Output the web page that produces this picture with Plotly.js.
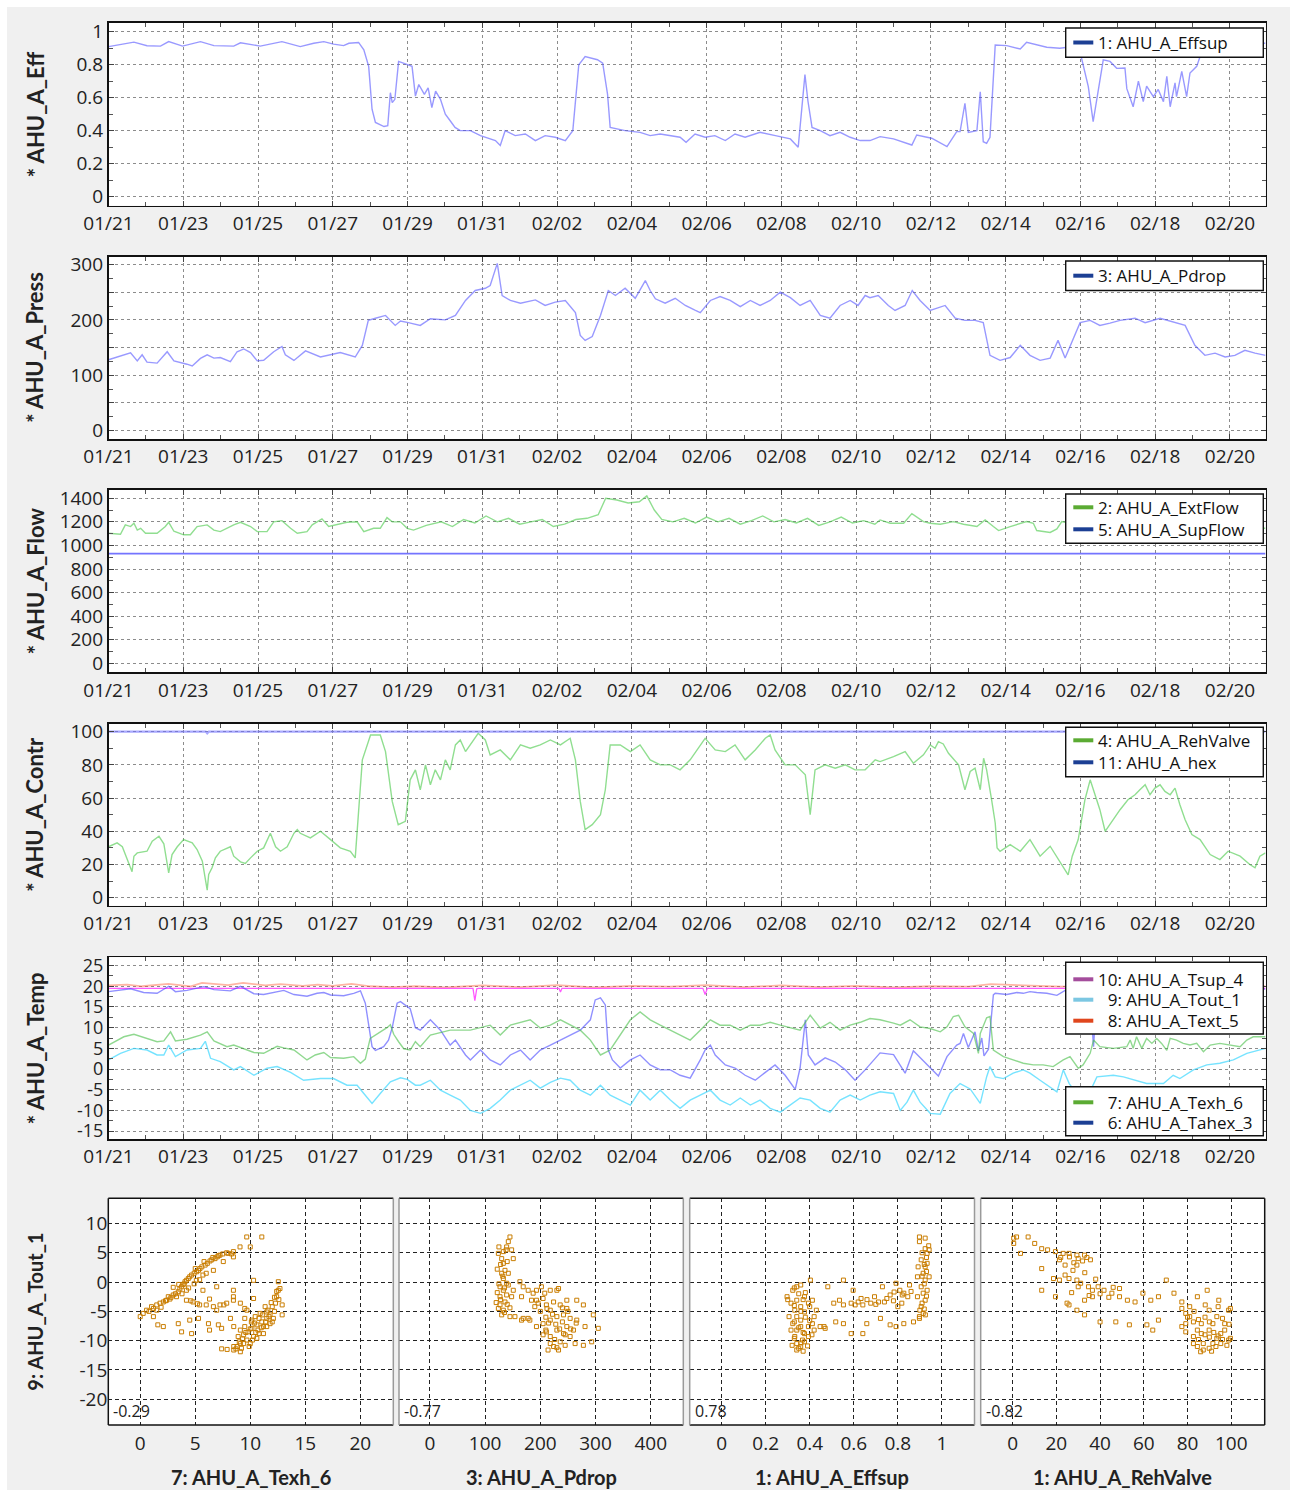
<!DOCTYPE html>
<html><head><meta charset="utf-8">
<script src="https://cdn.plot.ly/plotly-3.0.1.min.js"></script>
<style>html,body{margin:0;padding:0;background:#fff;} #chart{margin-left:7px;margin-top:7px;width:1283px;height:1483px;}</style>
</head><body><div id="chart"></div>
<script>
// ---------- DATA (time in days after 01/21 00:00) ----------
const effT=[0,0.5,0.68,1.03,1.39,1.61,1.98,2.46,2.82,3.35,3.53,4.06,4.64,5.13,5.49,5.76,6.02,6.29,6.43,6.69,6.83,6.96,7.05,7.14,7.37,7.47,7.54,7.59,7.66,7.76,7.9,8.12,8.21,8.3,8.45,8.55,8.65,8.75,8.88,9.01,9.14,9.27,9.41,9.68,9.95,10.35,10.48,10.61,10.88,11.15,11.42,11.68,11.95,12.22,12.42,12.58,12.75,13.08,13.22,13.35,13.42,13.82,14.22,14.49,14.76,15.03,15.29,15.45,15.69,15.96,16.22,16.5,16.76,17.03,17.43,17.84,18.24,18.45,18.63,18.71,18.82,19.04,19.3,19.57,19.84,20.11,20.37,20.64,21.0,21.49,21.62,22.02,22.43,22.69,22.78,22.91,23.0,23.23,23.32,23.4,23.49,23.58,23.72,24.03,24.39,24.56,25.1,25.45,25.8,26.03,26.21,26.34,26.48,26.61,26.79,26.97,27.19,27.24,27.41,27.55,27.68,27.77,27.95,28.08,28.22,28.31,28.4,28.53,28.57,28.71,28.84,28.93,29.11,29.2,29.4,29.8,30.2,30.6,30.95];
const effV=[.91,.933,.937,.915,.913,.94,.913,.94,.916,.913,.933,.913,.94,.91,.93,.94,.925,.916,.93,.935,.89,.79,.53,.45,.425,.43,.63,.57,.59,.82,.81,.79,.61,.68,.62,.66,.54,.64,.59,.5,.46,.42,.40,.40,.37,.34,.31,.40,.37,.38,.34,.37,.36,.34,.40,.80,.85,.83,.81,.62,.42,.40,.39,.37,.38,.37,.36,.33,.38,.36,.37,.34,.38,.36,.39,.37,.35,.30,.74,.58,.42,.40,.37,.39,.36,.34,.34,.364,.35,.313,.374,.354,.303,.394,.394,.566,.39,.40,.636,.333,.323,.36,.919,.916,.895,.936,.906,.90,.91,.839,.667,.455,.655,.83,.82,.778,.78,.655,.545,.70,.576,.67,.606,.65,.576,.73,.545,.69,.606,.76,.606,.75,.79,.85,.92,.93,.92,.93,.93];

const pdT=[0,.41,.59,.77,.9,1.03,1.3,1.57,1.75,2.1,2.24,2.46,2.64,2.82,2.99,3.26,3.44,3.62,3.8,3.98,4.15,4.42,4.64,4.73,4.96,5.27,5.67,6.2,6.6,6.79,6.95,7.14,7.41,7.67,7.81,8.02,8.34,8.61,9.01,9.28,9.55,9.81,10.08,10.21,10.4,10.53,10.75,11.02,11.42,11.68,11.95,12.22,12.49,12.62,12.75,12.94,13.16,13.37,13.56,13.82,14.09,14.36,14.49,14.63,14.89,15.16,15.43,15.7,15.83,16.1,16.36,16.63,16.9,17.17,17.43,17.7,17.97,18.24,18.5,18.77,19.04,19.3,19.57,19.84,20.05,20.24,20.37,20.59,20.86,21.04,21.31,21.5,21.71,21.98,22.38,22.65,22.91,23.18,23.4,23.58,23.85,24.12,24.39,24.65,24.92,25.19,25.4,25.59,25.78,25.99,26.26,26.52,26.79,27.06,27.46,27.73,28.13,28.53,28.8,29.06,29.33,29.6,29.87,30.13,30.4,30.67,30.95];
const pdV=[128,136.5,140.6,126,137,123.7,122,142.5,126,120,116.7,130.5,137,131,132,124.6,142.5,147.5,141,126,127,142.5,152,137,126.8,144,133,141,133,154,199,203,208,190,198,195,190,202,200,208,235,253,257,262,302,244,235,230,236,226,232,235,213,172,163,170,208,253,244,257,239,271,253,238,230,239,226,217,213,235,242,235,224,235,226,235,250,240,226,235,208,203,226,235,226,244,240,244,226,217,226,253,235,217,226,203,199,199,195,136,127,132,154,136,127,131,163,131,163,195,199,190,194,199,203,195,203,195,190,154,136,140,133,136,145,140,136];

const extFlowT=[0,.32,.45,.59,.68,.77,.86,.99,1.3,1.52,1.61,1.75,2.01,2.19,2.37,2.64,2.82,2.99,3.35,3.53,3.8,3.98,4.24,4.42,4.64,4.87,5.05,5.31,5.45,5.71,5.89,6.11,6.38,6.65,6.83,7.09,7.27,7.45,7.59,7.81,7.99,8.16,8.5,8.9,9.2,9.5,9.8,10.1,10.4,10.7,11.0,11.3,11.6,11.9,12.2,12.5,12.8,13.1,13.3,13.6,13.9,14.2,14.4,14.6,14.8,15.1,15.4,15.7,16.0,16.3,16.6,16.9,17.2,17.5,17.8,18.1,18.4,18.7,19.0,19.3,19.6,19.9,20.2,20.5,20.64,20.91,21.27,21.49,21.8,21.98,22.25,22.6,22.87,23.23,23.45,23.67,23.81,24.12,24.56,24.74,24.83,25.19,25.37,25.5,25.8,26.2,26.6,27.0,27.4,27.8,28.2,28.6,29.0,29.4,29.8,30.2,30.6,30.95];
const extFlowV=[1103,1095,1174,1160,1188,1130,1145,1103,1103,1160,1196,1120,1090,1090,1160,1174,1130,1117,1174,1196,1160,1117,1117,1200,1210,1145,1103,1117,1174,1225,1160,1174,1196,1200,1117,1145,1145,1236,1200,1200,1145,1130,1170,1200,1160,1220,1190,1250,1200,1230,1180,1200,1220,1160,1180,1220,1230,1260,1400,1385,1360,1370,1420,1300,1220,1200,1230,1190,1240,1200,1230,1180,1210,1250,1200,1220,1190,1230,1170,1200,1240,1190,1210,1180,1216,1188,1188,1270,1202,1188,1180,1202,1180,1160,1216,1160,1126,1160,1202,1188,1126,1110,1140,1202,1180,1230,1200,1220,1180,1210,1190,1230,1200,1170,1200,1160,1150,1145];
const supFlowT=[0,10,20,30.95];
const supFlowV=[930,930,930,930];

const rehT=[0,.23,.37,.5,.63,.68,.77,1.03,1.17,1.35,1.48,1.61,1.7,1.84,2.01,2.24,2.37,2.51,2.64,2.68,2.77,2.86,2.99,3.26,3.35,3.53,3.66,3.8,3.98,4.15,4.33,4.47,4.6,4.78,4.96,5.05,5.13,5.4,5.67,5.94,6.2,6.47,6.6,6.79,7.01,7.27,7.41,7.59,7.75,7.94,8.07,8.21,8.34,8.48,8.61,8.74,8.88,9.01,9.14,9.28,9.41,9.55,9.68,9.89,10.08,10.21,10.48,10.75,11.02,11.28,11.55,11.82,12.09,12.35,12.49,12.62,12.75,12.94,13.16,13.29,13.42,13.69,13.96,14.22,14.49,14.76,15.03,15.29,15.56,15.83,15.96,16.23,16.5,16.76,17.03,17.3,17.57,17.7,17.83,18.1,18.37,18.64,18.77,18.9,19.17,19.44,19.71,19.97,20.24,20.51,20.64,21.0,21.31,21.53,21.8,21.98,22.11,22.2,22.33,22.47,22.74,22.91,23.05,23.18,23.32,23.41,23.49,23.63,23.72,23.77,23.85,24.12,24.39,24.65,24.92,25.19,25.45,25.67,25.78,25.94,26.12,26.26,26.39,26.52,26.66,26.84,27.06,27.27,27.46,27.59,27.73,27.86,27.99,28.13,28.26,28.4,28.53,28.66,28.8,28.98,29.2,29.47,29.73,29.95,30.27,30.53,30.67,30.8,30.95];
const rehV=[30.7,33,30.7,23.7,15.7,25,27,28,34,37,32.5,15,26,30.7,35,33,29,22,4.6,14,18,24,28,30.7,25,21.6,20.6,24,28,30,38.8,30.7,28,30.7,38.8,41,38.8,36,40,35,30,28,24,83,98,98,88,58,44,46,71,77,65,80,68,77,71,83,77,92,95,88,92,99,95,86,89,83,92,90,92,95,92,96,83,58,41,44,50,65,92,92,88,92,83,80,80,77,83,92,96,89,88,92,83,89,96,98,89,80,80,74,50,77,80,78,80,77,77,83,82,84.9,88,81,86,92,90,94,92.6,87,80,65,76,78,65,84,77,58,45,30,28,32,28,35,25,31,22,13.7,25,35,59,71,62,53,40,46,53,59,62,65,68,62,66,68,64,62,66,56,47,38,35,26,23,28,25,20,18,25,27];
const hexT=[0,2.6,2.64,2.68,30.95];
const hexV=[100,100,99,100,100];

const tsupT=[0,9.75,9.8,9.85,9.9,12.05,12.09,12.13,15.9,15.96,16.02,30.95];
const tsupV=[19.5,19.5,16.5,19.4,19.5,19.5,18.6,19.5,19.5,18.0,19.5,19.5];
const textT=[0,.5,.9,1.6,2.2,2.5,3.2,3.6,4.2,4.6,5.2,5.6,6.0,6.5,7.0,7.6,8.2,9.0,10.0,11.0,12.0,13.0,14.0,15.0,16.0,17.0,18.0,19.0,20.0,21.0,22.0,23.0,23.6,24.5,25.5,26.5,27.5,28.5,29.5,30.95];
const textV=[20.2,20.4,20.0,20.6,20.0,20.8,20.3,20.8,20.2,20.5,20.1,20.4,20.1,20.6,20.0,19.8,20.0,19.7,20.2,19.8,20.3,19.7,20.1,19.9,20.3,19.8,20.2,19.8,20.1,19.7,20.0,19.9,20.5,20.2,19.9,20.3,19.9,20.2,19.9,20.0];
const tahexT=[0,.59,.94,1.3,1.61,1.79,2.1,2.55,2.82,3.26,3.53,3.89,4.15,4.51,4.69,4.96,5.31,5.58,5.76,5.94,6.29,6.56,6.74,6.87,6.96,7.05,7.14,7.36,7.49,7.59,7.72,7.81,8.07,8.21,8.34,8.61,8.88,9.14,9.28,9.55,9.68,9.95,10.21,10.48,10.75,11.02,11.28,11.55,11.82,12.09,12.35,12.62,12.89,13.02,13.16,13.29,13.37,13.48,13.69,13.96,14.22,14.49,14.76,15.03,15.29,15.56,15.83,15.96,16.1,16.23,16.5,16.76,17.03,17.3,17.57,17.83,18.1,18.37,18.5,18.64,18.72,18.9,19.17,19.44,19.71,19.97,20.24,20.51,20.64,21.0,21.31,21.53,21.8,22.2,22.43,22.69,22.78,22.87,23.0,23.18,23.27,23.36,23.42,23.54,23.67,23.72,24.03,24.3,24.47,24.65,24.83,25.1,25.37,25.59,25.9,26.2,26.3,26.35,26.42,26.8,27.2,27.6,28.0,28.4,28.8,29.2,29.6,30.0,30.95];
const tahexV=[18.7,19.4,18.5,18.3,20.0,18.7,19.0,19.9,19.2,18.9,20.0,18.2,18.0,18.7,19.0,18.0,17.6,18.3,18.5,17.9,17.7,18.3,18.9,15.9,10.2,5.4,4.5,5.4,7.0,10,15.9,16.3,14.6,10,9.4,11.9,9.4,5.8,7.0,3.4,2.2,4.6,2.2,1.0,3.4,4.6,2.2,4.6,5.8,7.0,8.2,9.4,11.9,16.7,17.2,15.5,4.6,2.2,0.25,2.2,3.4,1.0,-0.2,-0.2,-1.5,-2.2,2.2,4.6,5.8,3.4,1.0,0.25,-1.5,-2.7,-0.8,1.0,-1.5,-4.9,0.25,11.9,3.4,1.0,2.7,1.7,-0.2,-2.7,-0.2,2.7,3.9,3.5,-1.0,4.4,2.0,-1.7,3,5.8,6.2,8.6,5.2,9.0,4.4,7.5,3.2,4.8,17.9,18.3,18.0,18.5,18.3,18.7,18.5,18.3,17.8,19.0,19.0,18.5,12,5.4,16,16,14,13,14,13,15,18,19,19.3,19.3];
const texhT=[0,.41,.68,.94,1.3,1.48,1.66,1.79,2.1,2.46,2.64,2.82,3.17,3.35,3.62,3.89,4.15,4.51,4.69,4.96,5.31,5.53,5.76,5.94,6.29,6.56,6.74,6.87,7.0,7.18,7.45,7.54,7.63,7.76,7.9,8.07,8.21,8.34,8.61,9.14,9.68,10.21,10.48,10.75,11.28,11.55,11.82,12.09,12.35,12.62,12.89,13.16,13.42,13.69,13.96,14.22,14.49,14.76,15.03,15.29,15.56,15.83,16.1,16.36,16.63,16.9,17.17,17.43,17.7,17.97,18.24,18.5,18.77,19.04,19.3,19.57,19.84,20.11,20.37,20.64,21.0,21.18,21.44,21.71,21.98,22.25,22.43,22.6,22.74,22.91,23.14,23.27,23.32,23.49,23.58,23.67,23.94,24.2,24.47,24.74,25.0,25.27,25.54,25.72,25.94,26.07,26.26,26.35,26.52,26.88,27.24,27.33,27.41,27.5,27.64,27.77,27.91,28.04,28.17,28.31,28.4,28.57,28.75,28.93,29.11,29.29,29.47,29.73,30.0,30.27,30.45,30.62,30.95];
const texhV=[5.8,7.8,8.4,7.6,6.6,6.8,9.0,6.8,7.2,8.2,9.0,6.8,5.4,5.8,4.8,4.0,3.8,5.5,5.1,4.6,2.2,3.4,4.0,2.8,2.6,3.0,1.4,2.4,7.4,8.4,10,10.7,8.4,6.6,4.9,4.6,6.6,5.4,8.2,9.4,9.4,10.6,8.2,10.6,11.9,9.9,10.6,11.9,10.6,9.4,7.0,3.4,4.6,8.2,11.9,13.8,11.9,10.6,9.4,8.2,7.0,9.4,11.9,10.6,10.6,9.4,10.6,10.6,11.3,10.6,9.9,9.4,13.0,9.9,11.3,9.4,10.6,11.3,12.2,11.9,11.1,10.6,11.9,10.2,9.8,9.0,10.2,12.7,13.0,10.2,8.6,3.8,8.6,12.4,12.7,4.6,3.0,2.2,1.4,1.0,1.0,0.6,2.2,3.0,0.2,1.0,3.8,7.0,5.4,5.0,5.4,7.0,5.0,7.8,5.0,7.4,6.2,7.4,6.2,4.5,7.4,7.0,6.2,5.8,6.2,4.2,5.8,6.2,5.8,5.4,7.0,7.8,7.8];
const toutT=[0,.32,.68,1.03,1.3,1.48,1.61,1.79,2.1,2.46,2.59,2.73,2.99,3.35,3.53,3.89,4.24,4.51,4.87,5.22,5.67,6.02,6.38,6.65,6.83,7.05,7.27,7.54,7.81,7.99,8.21,8.34,8.61,8.88,9.14,9.41,9.68,9.95,10.21,10.48,10.75,11.02,11.28,11.55,11.82,12.09,12.35,12.62,12.89,13.16,13.42,13.69,13.96,14.22,14.49,14.76,15.03,15.29,15.56,15.83,16.1,16.36,16.63,16.9,17.17,17.43,17.7,17.97,18.24,18.5,18.77,19.04,19.3,19.57,19.84,20.11,20.37,20.64,21.0,21.18,21.36,21.53,21.71,21.98,22.25,22.51,22.78,23.05,23.32,23.49,23.58,23.72,23.94,24.2,24.47,24.65,24.92,25.19,25.37,25.54,25.7,25.9,26.1,26.3,26.44,26.88,27.15,27.77,28.22,28.48,28.66,29.02,29.38,29.73,30.09,30.45,30.95];
const toutV=[2.2,3.8,5.0,4.6,3.4,3.4,5.8,3.0,4.6,5.0,6.7,2.6,1.8,-0.2,0.6,-1.5,0.2,0.6,-0.8,-2.7,-2.3,-2.3,-3.9,-3.9,-5.9,-8.3,-5.9,-3.1,-2.1,-2.5,-3.9,-3.9,-2.7,-5.1,-6.3,-7.5,-10,-10.7,-9.5,-7.5,-5.1,-3.9,-2.7,-4.6,-3.2,-2.2,-2.7,-5.1,-6.3,-3.9,-6.3,-7.5,-8.7,-5.1,-7.5,-5.1,-7.5,-9.5,-7.5,-6.3,-5.1,-7.5,-8.7,-7.0,-8.7,-7.5,-9.5,-10.4,-8.7,-7.0,-7.5,-9.5,-10.4,-7.5,-6.3,-7.5,-6.3,-5.5,-5.9,-10,-8.0,-5.1,-8.0,-10.7,-10.9,-5.9,-3.5,-4.8,-8.3,-1.9,0.6,-1.9,-2.3,-1.0,-0.2,-1.0,-2.7,-4.3,-5.5,-0.2,-3.5,-6,-5,-4.6,-1.9,-1.5,-1.9,-3.5,-3.5,-1.5,-2.3,-0.2,1.0,1.4,2.2,3.8,5.0];

// scatter panels (y = 9: AHU_A_Tout_1)
const sc1X=[0,0.27,0.58,1.03,1.5,2.1,2.55,3.0,3.46,3.76,4.07,4.37,4.67,5.13,5.43,5.9,6.34,6.8,7.25,7.86,8.47,9.07,9.68,11.05,10.0,1.5,2.4,3.3,4.2,5.1,5.7,6.65,7.55,8.47,4.2,4.8,5.4,6.0,6.65,7.25,7.86,8.47,9.1,9.5,5.7,6.95,8.47,8.47,1.2,1.6,2.1,3.46,3.76,4.67,4.5,5.3,6.2,6.3,7.1,7.4,8.2,8.5,9.7,9.5,6.95,10.3,10.3,7.4,7.9,8.5,8.8,9.1,8.9,9.4,9.8,9.7,10.15,10.3,10.6,10.7,11.05,11.2,11.5,11.5,11.8,12.0,12.3,12.4,12.55,12.55,12.7,12.9,12.9,10.15,10.45,10.9,11.35,9.1,9.4,10.0,10.6,11.2,11.8,12.1,8.5,9.1,0.8,1.2,1.8,2.3,2.8,3.2,3.6,3.9,4.2,4.5,4.9,5.3,5.6,6.1,6.5,7.0,7.5,8.0,8.3,7.1,6.6,5.8,5.0,3.0,3.5,4.0,2.7,4.4,4.9,5.4,6.0,1.9,3.8,4.6,5.2,7.6,6.3,9.3,9.6,10.0,10.4,10.8,11.1,11.6,11.9,12.2,12.4,9.0,8.7,9.9,10.2,10.5,11.0,11.4,11.7,12.2,12.6,9.5,10.1,10.8,11.5,12.0,9.2];
const sc1Y=[-5.9,-5.35,-4.8,-4.2,-3.9,-3.4,-2.5,-2.2,-1.65,-0.8,0.06,0.6,1.2,1.76,2.3,2.9,3.6,4.0,4.6,5.0,5.2,6.0,7.7,7.7,6.0,-4.8,-3.1,-2.5,-1.4,0.3,1.2,2.0,3.5,4.3,-3.1,-3.4,-3.9,-3.9,-4.2,-3.9,-3.6,-3.1,-3.6,-4.5,-1.4,-0.8,-1.4,-2.5,-5.9,-7.3,-7.6,-7.1,-8.5,-8.8,-6.5,-6.2,-7.1,-8.2,-7.3,-7.9,-6.2,-7.6,-4.8,-6.2,-4.8,-2.8,0.3,-11.4,-11.5,-11.6,-11.0,-10.5,-9.3,-9.0,-8.5,-9.9,-7.9,-9.3,-7.3,-8.2,-6.8,-7.6,-6.2,-5.1,-5.6,-4.2,-3.6,-2.5,-1.4,0.06,-1.1,-3.9,-5.6,-6.5,-5.9,-5.35,-4.2,-8.2,-10.5,-10.5,-9.6,-8.8,-7.1,-6.2,-11.0,-11.9,-5.0,-4.5,-3.6,-3.2,-2.6,-2.0,-1.2,-0.4,0.3,0.9,1.5,2.0,2.6,3.2,3.8,4.3,4.8,4.9,4.8,4.5,4.2,3.5,2.3,-0.9,-0.4,-0.3,-2.9,-1.0,-0.3,0.4,1.5,-4.3,-2.0,-3.2,-3.7,-3.9,-2.9,-9.7,-8.6,-8.0,-7.0,-6.2,-5.6,-4.8,-3.5,-2.6,-1.6,-10.2,-11.4,-11.0,-9.9,-8.6,-7.8,-6.8,-5.9,-5.0,-3.0,-7.6,-6.8,-8.8,-7.6,-6.8,-11.3];
const sc2X=[145,142,139,133,124,130,133,136,130,133,139,127,133,139,127,136,127,133,130,145,151,148,142,151,148,163,169,178,187,193,202,208,218,230,233,205,196,211,224,236,248,248,266,278,296,305,293,278,281,266,254,242,230,218,205,193,181,169,166,178,211,218,230,242,254,263,236,224,214,233,248,260,218,193,184,166,154,125,138,128,140,122,132,125,142,122,135,128,140,124,135,145,120,200,210,215,222,228,235,240,245,250,226,210,205,218,230,245,255,265,212,190,240];
const sc2Y=[7.7,6.9,6.0,5.2,4.9,4.0,3.2,2.0,1.5,0.6,-0.2,-0.8,-1.4,-2.2,-2.5,-3.4,-3.9,-4.8,-5.6,-5.9,-1.4,-2.5,1.5,4.0,5.5,0.06,-0.8,-1.4,-1.9,-1.4,-0.8,-1.9,-1.4,-1.4,-1.1,-2.8,-3.6,-3.9,-3.4,-3.9,-3.1,-4.5,-3.1,-3.9,-5.6,-7.9,-10.2,-10.8,-7.6,-6.5,-6.2,-5.6,-5.9,-6.5,-7.1,-7.6,-6.5,-6.2,-6.5,-6.2,-8.5,-9.3,-8.2,-8.8,-9.3,-10.5,-10.2,-11.0,-11.6,-11.6,-7.6,-8.2,-4.8,-3.1,-3.1,-2.5,-5.9,6.0,5.5,3.0,3.5,2.2,1.0,-0.3,-0.5,-1.8,-1.0,-3.0,-3.8,-4.5,-5.2,-4.4,-3.5,-5.0,-6.0,-7.0,-5.5,-7.2,-8.0,-6.8,-9.0,-5.0,-9.8,-8.2,-9.0,-10.5,-11.2,-10.8,-8.0,-7.0,-4.5,-4.2,-4.4];
const sc3X=[0.297,0.323,0.341,0.359,0.403,0.315,0.332,0.341,0.323,0.341,0.332,0.341,0.341,0.359,0.367,0.376,0.394,0.412,0.42,0.43,0.394,0.376,0.412,0.359,0.376,0.359,0.306,0.315,0.376,0.394,0.42,0.447,0.47,0.359,0.341,0.509,0.535,0.553,0.588,0.606,0.633,0.641,0.677,0.694,0.712,0.739,0.765,0.783,0.809,0.827,0.845,0.853,0.8,0.818,0.482,0.553,0.597,0.73,0.792,0.465,0.518,0.553,0.588,0.641,0.659,0.721,0.765,0.792,0.827,0.871,0.898,0.898,0.915,0.906,0.924,0.915,0.906,0.924,0.915,0.924,0.906,0.933,0.924,0.942,0.898,0.924,0.898,0.889,0.933,0.942,0.889,0.933,0.892,0.33,0.35,0.37,0.33,0.36,0.38,0.33,0.35,0.37,0.33,0.36,0.39,0.35,0.32,0.4,0.4,0.38,0.3,0.41,0.37,0.92,0.91,0.93,0.92,0.91,0.93,0.92,0.93,0.91,0.94,0.925,0.9,0.62,0.66,0.7,0.75,0.78,0.82,0.86];
const sc3Y=[-2.5,-1.4,-0.8,-0.5,0.34,-3.6,-4.8,-5.9,-7.1,-8.2,-9.3,-10.5,-11.6,-11.0,-9.9,-8.8,-7.6,-7.1,-5.9,-4.8,-3.6,-2.5,-3.1,-6.5,-5.1,-4.2,-5.9,-8.2,-10.2,-9.3,-8.2,-7.6,-7.9,-7.6,-3.1,-3.6,-3.1,-3.9,-3.6,-3.9,-2.8,-3.9,-3.6,-2.5,-3.4,-3.4,-2.2,-1.7,-1.4,-1.9,-2.5,-0.5,-4.2,-3.6,-0.8,0.34,-1.4,-0.8,-0.2,-7.6,-6.8,-7.1,-8.8,-8.8,-7.1,-6.2,-7.3,-7.6,-7.1,-6.8,-6.2,-5.9,-5.35,-4.2,-3.1,-1.9,-0.8,0.34,1.5,2.6,3.8,4.9,5.7,5.5,7.7,7.5,6.9,-2.5,-1.4,0.9,0.9,3.2,2.6,-1.0,-2.0,-3.0,-4.0,-5.0,-6.0,-6.8,-7.8,-8.6,-9.6,-10.4,-10.9,-11.3,-10.8,-6.6,-4.2,-1.8,-3.0,-9.0,-11.8,-4.6,-3.6,-2.4,-0.3,1.0,1.8,3.0,4.2,5.0,6.2,-5.6,-4.8,-3.4,-3.0,-3.8,-2.8,-3.2,-2.2,-1.6];
const sc4X=[0.5,0.5,1.8,7.1,3.6,10.1,13.3,16.0,19.6,23.1,25.8,29.4,32.9,35.6,21.4,24.0,27.6,29.4,13.3,18.7,21.4,25.8,29.4,31.1,34.7,36.5,39.1,41.8,45.4,48.9,48.9,52.5,56.0,59.6,63.2,66.7,70.3,73.8,77.4,13.3,19.6,24.9,29.4,32.9,40.0,47.2,53.4,61.4,64.1,66.7,25.8,32.9,36.5,77.4,79.2,81.0,82.7,79.2,77.4,84.5,86.3,82.7,87.2,84.5,87.2,89.9,91.6,93.4,95.2,97.0,98.8,99.6,97.0,93.4,89.9,88.1,98.8,99.6,94.3,89.0,84.5,81.0,86.3,89.9,91.6,95.2,82.7,79.2,22,26,30,34,28,32,24,33,38,30,27,35,40,44,46,83,85,88,90,92,94,96,85,88,91,93,86,80,96,99,94,98,90];
const sc4Y=[7.5,6.6,7.7,7.7,4.9,6.6,5.7,5.5,5.2,4.9,4.9,4.6,4.6,3.8,3.8,2.9,2.0,2.9,2.3,0.6,0.34,0.6,0.34,-0.2,-0.8,-1.4,-0.8,-1.4,-1.9,-1.1,-2.5,-3.1,-3.4,-1.9,-3.1,-2.5,0.34,-1.9,-3.4,-1.4,-2.5,-3.6,-4.8,-5.6,-6.8,-6.8,-7.3,-7.3,-8.2,-6.5,-3.9,-3.1,-2.5,-4.5,-5.35,-5.9,-6.8,-7.1,-7.6,-8.2,-8.8,-9.3,-10.5,-11.0,-11.6,-11.3,-10.5,-9.6,-8.8,-8.2,-9.9,-9.6,-7.1,-5.9,-4.8,-3.9,-4.8,-4.5,-3.1,-1.4,-2.5,-4.2,-7.1,-8.2,-7.1,-10.5,-10.5,-8.5,4.2,4.3,4.0,4.2,3.3,3.6,1.2,1.6,0.5,-0.8,-1.8,-2.3,-2.0,-2.6,-0.9,-5.0,-6.4,-6.0,-6.8,-8.6,-9.2,-9.8,-9.8,-9.0,-11.8,-11.0,-11.9,-6.0,-6.2,-7.2,-4.2,-10.8,-9.4];
const corrLabels=['-0.29','-0.77','0.78','-0.82'];
const scXTitles=['7: AHU_A_Texh_6','3: AHU_A_Pdrop','1: AHU_A_Effsup','1: AHU_A_RehValve'];
const scYTitle='9: AHU_A_Tout_1';
const panelTitles=['* AHU_A_Eff','* AHU_A_Press','* AHU_A_Flow','* AHU_A_Contr','* AHU_A_Temp'];
// legend entries per panel
const legNames=[['1: AHU_A_Effsup'],['3: AHU_A_Pdrop'],['2: AHU_A_ExtFlow','5: AHU_A_SupFlow'],['4: AHU_A_RehValve','11: AHU_A_hex'],['10: AHU_A_Tsup_4','\u20079: AHU_A_Tout_1','\u20078: AHU_A_Text_5'],['\u20077: AHU_A_Texh_6','\u20076: AHU_A_Tahex_3']];

// tick labels
const effTicks=[0,0.2,0.4,0.6,0.8,1], effTickText=['0','0.2','0.4','0.6','0.8','1'];
const pressTicks=[0,50,100,150,200,250,300], pressTickText=['0','','100','','200','','300'];
const flowTicks=[0,200,400,600,800,1000,1200,1400], flowTickText=['0','200','400','600','800','1000','1200','1400'];
const contrTicks=[0,20,40,60,80,100], contrTickText=['0','20','40','60','80','100'];
const tempTicks=[-15,-10,-5,0,5,10,15,20,25], tempTickText=['-15','-10','-5','0','5','10','15','20','25'];
const scYTicks=[-20,-15,-10,-5,0,5,10], scYTickText=['-20','-15','-10','-5','0','5','10'];
const sc1Ticks=[0,5,10,15,20], sc2Ticks=[0,100,200,300,400], sc3Ticks=[0,0.2,0.4,0.6,0.8,1], sc3TickText=['0','0.2','0.4','0.6','0.8','1'], sc4Ticks=[0,20,40,60,80,100];

// ---------- LAYOUT HELPERS ----------
const OX=7, OY=7, W=1283, H=1483;
const fx=p=>(p-OX)/W, fy=p=>1-(p-OY)/H;
const DAY=86400000, BASE=Date.UTC(2021,0,21);
const toDate=ts=>ts.map(d=>BASE+d*DAY);
const TF={family:'Open Sans, sans-serif',size:19,color:'#222'};
const TF18={family:'Open Sans, sans-serif',size:18,color:'#222'};
const panels=[[23,205.7],[256.7,439],[490,672.3],[724,905.7],[957.3,1139]];
const yRanges=[[-0.055,1.053],[-15,314],[-76,1470],[-4.8,104.6],[-16.9,27]];
const yTicks=[[effTicks,effTickText,0.1],[pressTicks,pressTickText,25],[flowTicks,flowTickText,100],[contrTicks,contrTickText,10],[tempTicks,tempTickText,2.5]];

const layout={
  width:W,height:H,margin:{l:0,r:0,t:0,b:0},
  paper_bgcolor:'#f0f0f0',plot_bgcolor:'#ffffff',
  showlegend:false,hovermode:false,
  annotations:[],shapes:[]
};
for(let i=0;i<5;i++){
  const s=i===0?'':String(i+1);
  layout['xaxis'+s]={
    domain:[fx(108.5),fx(1265.5)],anchor:'y'+s,type:'date',
    range:['2021-01-21 00:00','2021-02-20 22:48'],
    tick0:'2021-01-21',dtick:2*DAY,tickformat:'%m/%d',
    ticks:'inside',ticklen:5,tickcolor:'#444',tickfont:TF,
    showgrid:true,gridcolor:'#8c8c8c',griddash:'dot',gridwidth:1,
    showline:true,linecolor:'#111',linewidth:1.6,mirror:'allticks',zeroline:false,
    minor:{tick0:'2021-01-21',dtick:DAY,ticks:'inside',ticklen:4,tickcolor:'#555',showgrid:false}
  };
  const [tv,tt,mn]=yTicks[i];
  layout['yaxis'+s]={
    domain:[fy(panels[i][1]),fy(panels[i][0])],anchor:'x'+s,range:yRanges[i],
    tickmode:'array',tickvals:tv,ticktext:tt,
    ticks:'inside',ticklen:5,tickcolor:'#444',tickfont:(i===4?TF18:TF),
    showgrid:true,gridcolor:'#8c8c8c',griddash:'dot',gridwidth:1,
    showline:true,linecolor:'#111',linewidth:1.6,mirror:'allticks',zeroline:false,
    minor:{tickmode:'linear',tick0:0,dtick:mn,ticks:'inside',ticklen:4,tickcolor:'#555',showgrid:false}
  };
  layout.annotations.push({xref:'paper',yref:'paper',x:fx(35),y:fy((panels[i][0]+panels[i][1])/2),
    text:'<b>'+panelTitles[i]+'</b>',textangle:-90,showarrow:false,xanchor:'center',yanchor:'middle',
    font:{family:'Lato, sans-serif',size:22,color:'#222'}});
}
// scatter subplots
const scDom=[[108.3,393.3],[399,683.3],[689.7,974.5],[980.7,1264.7]];
const scRanges=[[-2.9,23.0],[-56,459],[-0.145,1.148],[-14.6,115.3]];
const scTicks=[[sc1Ticks,sc1Ticks.map(String)],[sc2Ticks,sc2Ticks.map(String)],[sc3Ticks,sc3TickText],[sc4Ticks,sc4Ticks.map(String)]];
const scTop=1198.3, scBot=1425;
for(let j=0;j<4;j++){
  const s=String(6+j);
  layout['xaxis'+s]={domain:[fx(scDom[j][0]),fx(scDom[j][1])],anchor:'y'+s,range:scRanges[j],
    tickmode:'array',tickvals:scTicks[j][0],ticktext:scTicks[j][1],tickfont:TF,ticks:'',ticklabelstandoff:5,
    showgrid:true,gridcolor:'#222',griddash:'4px,3px',gridwidth:1,zeroline:false,showline:false};
  layout['yaxis'+s]={domain:[fy(scBot),fy(scTop)],anchor:'x'+s,range:[-24.4,14.3],
    tickmode:'array',tickvals:scYTicks,ticktext:scYTickText,tickfont:TF,ticks:'',showticklabels:j===0,
    showgrid:true,gridcolor:'#222',griddash:'4px,3px',gridwidth:1,zeroline:false,showline:false};
  const L=fx(scDom[j][0]),R=fx(scDom[j][1]),T=fy(scTop),B=fy(scBot);
  layout.shapes.push({type:'line',xref:'paper',yref:'paper',x0:L,x1:R,y0:T,y1:T,line:{color:'#111',width:1.5},layer:'above'});
  layout.shapes.push({type:'line',xref:'paper',yref:'paper',x0:L,x1:R,y0:B,y1:B,line:{color:'#111',width:1.5},layer:'above'});
  layout.shapes.push({type:'line',xref:'paper',yref:'paper',x0:L,x1:L,y0:B,y1:T,line:{color:j===0?'#111':'#9a9a9a',width:1.5},layer:'above'});
  layout.shapes.push({type:'line',xref:'paper',yref:'paper',x0:R,x1:R,y0:B,y1:T,line:{color:j===3?'#111':'#9a9a9a',width:1.5},layer:'above'});
  layout.annotations.push({xref:'paper',yref:'paper',x:fx(scDom[j][0]+3),y:fy(scBot-1),text:corrLabels[j],showarrow:false,
    xanchor:'left',yanchor:'bottom',font:{family:'Open Sans, sans-serif',size:16,color:'#222'}});
  layout.annotations.push({xref:'paper',yref:'paper',x:fx((scDom[j][0]+scDom[j][1])/2),y:fy(1477),text:'<b>'+scXTitles[j]+'</b>',
    showarrow:false,xanchor:'center',yanchor:'middle',font:{family:'Lato, sans-serif',size:20,color:'#222'}});
}
layout.annotations.push({xref:'paper',yref:'paper',x:fx(35),y:fy((scTop+scBot)/2),text:'<b>'+scYTitle+'</b>',textangle:-90,
  showarrow:false,xanchor:'center',yanchor:'middle',font:{family:'Lato, sans-serif',size:20,color:'#222'}});

// legend boxes (box top/bottom px, item centre rows px)
const NAVY='#1c3f94', GREEN='#5bab33', MAG='#a44d9c', CYAN='#7cc7e2', RED='#e0461d';
const legColors=[[NAVY],[NAVY],[GREEN,NAVY],[GREEN,NAVY],[MAG,CYAN,RED],[GREEN,NAVY]];
const legBoxes=[[28,57.3,[42.5]],[261,290.5,[275.7]],[494,543.3,[507.3,529.3]],[727.3,776.7,[740.3,762.3]],[962.3,1034,[979.3,999.7,1020.7]],[1086.7,1135.7,[1102.3,1122.7]]];
legBoxes.forEach((b,k)=>{
  layout.shapes.push({type:'rect',xref:'paper',yref:'paper',x0:fx(1065.7),x1:fx(1263.3),y0:fy(b[1]),y1:fy(b[0]),
    fillcolor:'#ffffff',line:{color:'#111',width:1.4},layer:'above'});
  b[2].forEach((yy,m)=>{
    layout.shapes.push({type:'line',xref:'paper',yref:'paper',x0:fx(1073.3),x1:fx(1093.3),y0:fy(yy),y1:fy(yy),
      line:{color:legColors[k][m],width:4},layer:'above'});
    layout.annotations.push({xref:'paper',yref:'paper',x:fx(1095.5),y:fy(yy),text:legNames[k][m],showarrow:false,
      xanchor:'left',yanchor:'middle',font:{family:'Open Sans, sans-serif',size:17,color:'#111'}});
  });
});

// ---------- TRACES ----------
const traces=[];
function line(t,v,ax,color,width){
  traces.push({x:toDate(t),y:v,xaxis:'x'+ax,yaxis:'y'+ax,mode:'lines',line:{color:color,width:width||1.3},showlegend:false,hoverinfo:'skip'});
}
line(effT,effV,'','rgba(85,85,255,0.6)',1.4);
line(pdT,pdV,'2','rgba(85,85,255,0.6)',1.4);
line(extFlowT,extFlowV,'3','rgba(70,200,70,0.6)',1.4);
line(supFlowT,supFlowV,'3','rgba(70,70,255,0.75)',1.8);
line(rehT,rehV,'4','rgba(70,200,70,0.6)',1.4);
line(hexT,hexV,'4','rgba(110,110,255,0.6)',2.2);
line(textT,textV,'5','rgba(255,90,50,0.45)',1.8);
line(tsupT,tsupV,'5','rgba(255,60,255,0.85)',1.3);
line(tahexT,tahexV,'5','rgba(70,70,255,0.6)',1.4);
line(texhT,texhV,'5','rgba(70,190,70,0.6)',1.4);
line(toutT,toutV,'5','rgba(60,215,255,0.7)',1.4);
const scX=[sc1X,sc2X,sc3X,sc4X], scY=[sc1Y,sc2Y,sc3Y,sc4Y];
for(let j=0;j<4;j++){
  traces.push({x:scX[j],y:scY[j],xaxis:'x'+(6+j),yaxis:'y'+(6+j),mode:'markers',showlegend:false,hoverinfo:'skip',
    marker:{symbol:'square-open',size:4,color:'#c97d00',line:{width:1,color:'#c97d00'}}});
}
Plotly.newPlot('chart',traces,layout,{staticPlot:true,displayModeBar:false});
</script></body></html>
